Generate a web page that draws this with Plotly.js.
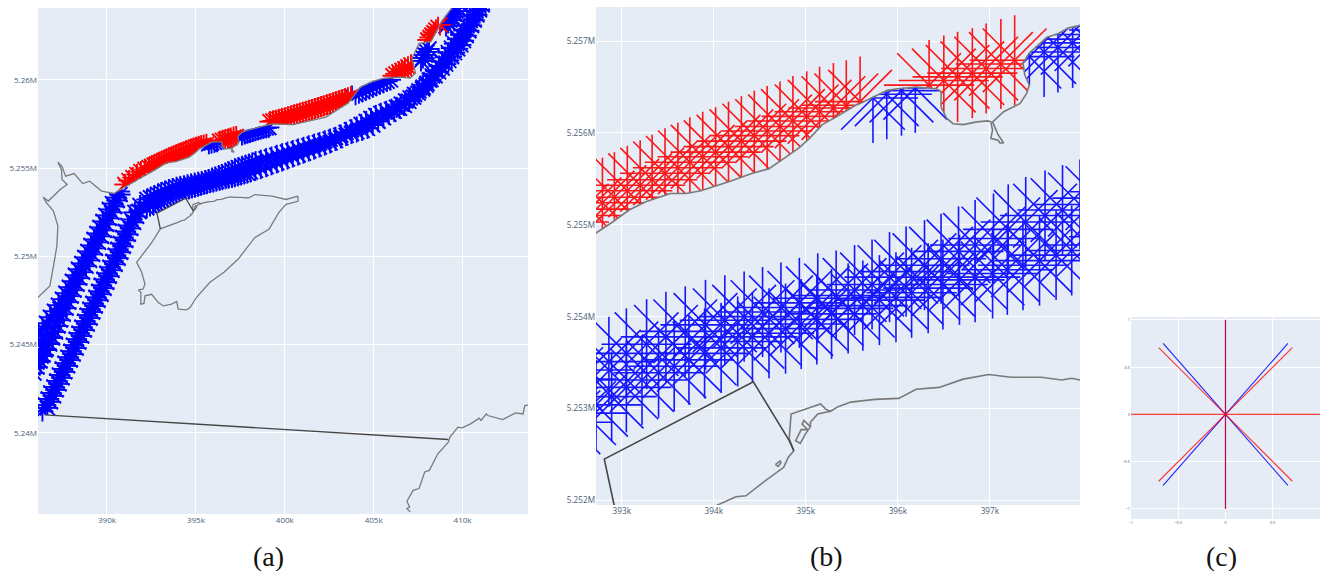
<!DOCTYPE html>
<html><head><meta charset="utf-8">
<script src="https://cdn.plot.ly/plotly-3.0.1.min.js"></script>
<style>html,body{margin:0;padding:0;background:#fff}#g{width:1320px;height:571px}</style>
</head><body><div id="g"></div>
<script>
// All map positions are in kilometres (x = easting, y = northing).
const redStart = [[391.01,5254.07],[391.24,5254.29],[391.46,5254.46],[391.69,5254.63],[391.91,5254.80],[392.14,5254.92],[392.37,5255.03],[392.51,5255.10],[392.65,5255.17],
[392.79,5255.24],[392.92,5255.30],[393.06,5255.37],[393.20,5255.43],[393.33,5255.49],[393.47,5255.56],[393.61,5255.62],[393.74,5255.68],[393.88,5255.74],[394.02,5255.79],[394.16,5255.85],[394.30,5255.91],[394.44,5255.97],[394.58,5256.02],[394.72,5256.07],[394.86,5256.13],[395.01,5256.18],[395.15,5256.23],[395.30,5256.27],[395.44,5256.30],[395.59,5256.34]];
const redBay = [[396.34,5256.52],[396.50,5256.57],[396.65,5256.61],[396.81,5256.65],[396.96,5256.70],[397.12,5256.75],[397.27,5256.79]];
const redMiddle = [[399.17,5257.63],[399.34,5257.67],[399.50,5257.71],[399.67,5257.76],[399.84,5257.81],[400.01,5257.85],[400.18,5257.91],[400.35,5257.96],[400.52,5258.01],[400.69,5258.06],[400.85,5258.11],[401.02,5258.16],[401.19,5258.21],[401.36,5258.27],[401.53,5258.32],[401.70,5258.37],[401.87,5258.43],[402.04,5258.48],[402.20,5258.53],[402.37,5258.59],[402.54,5258.64],[402.71,5258.70],[402.88,5258.76],[403.05,5258.81],[403.22,5258.87],[403.39,5258.93],[403.55,5258.98],[403.72,5259.04]];
const redCape = [[406.09,5260.23],[406.25,5260.34],[406.42,5260.45],[406.59,5260.54],[406.76,5260.62],[406.93,5260.73],[407.10,5260.85]];
const redEnd = [[408.05,5262.26],[408.17,5262.40],[408.28,5262.54],[408.39,5262.68],[408.50,5262.82],[408.62,5262.97],[408.73,5263.11]];

const track1West = [[391.86,5252.88],[391.57,5252.49],[391.35,5252.09],[391.18,5251.75],[391.04,5251.41],[390.90,5251.07],[390.76,5250.73],[390.62,5250.40],[390.48,5250.06],[390.34,5249.72],[390.17,5249.38],[390.00,5249.04],[389.83,5248.70],[389.69,5248.36],[389.55,5248.02],[389.38,5247.68],[389.21,5247.34],[389.04,5247.01],[388.90,5246.67],[388.76,5246.33],[388.59,5245.99],[388.43,5245.65],[388.28,5245.31],[388.12,5244.97],[387.98,5244.63],[387.81,5244.29],[387.64,5243.95],[387.50,5243.62],[387.33,5243.28],[387.19,5242.94],[387.02,5242.60],[386.85,5242.26],[386.71,5241.92],[386.54,5241.58],[386.37,5241.24]];
const track1Mid = [[392.25,5253.22],[392.45,5253.32],[392.65,5253.42],[392.86,5253.51],[393.05,5253.60],[393.27,5253.70],[393.48,5253.78],[393.69,5253.84],[393.91,5253.91],[394.12,5253.96],[394.33,5254.00],[394.53,5254.05],[394.73,5254.10],[394.93,5254.15],[395.13,5254.20],[395.33,5254.23],[395.53,5254.29],[395.72,5254.35],[395.91,5254.43],[396.09,5254.49],[396.29,5254.56],[396.47,5254.63],[396.66,5254.71],[396.84,5254.78],[397.04,5254.85],[397.20,5254.95],[397.39,5255.03],[397.60,5255.10],[397.79,5255.16],[397.98,5255.22],[398.17,5255.29],[398.36,5255.36]];
const track1East = [[398.65,5255.44],[398.95,5255.53],[399.25,5255.62],[399.55,5255.72],[399.85,5255.81],[400.15,5255.90],[400.45,5255.99],[400.75,5256.08],[401.05,5256.17],[401.35,5256.26],[401.65,5256.35],[401.95,5256.44],[402.25,5256.54],[402.55,5256.64],[402.85,5256.74],[403.15,5256.87],[403.45,5257.02],[403.75,5257.17],[404.05,5257.32],[404.30,5257.47],[404.58,5257.64],[404.85,5257.81],[405.12,5257.98],[405.40,5258.10],[405.70,5258.21],[406.00,5258.33],[406.28,5258.44],[406.55,5258.62],[406.80,5258.80],[407.05,5258.98],[407.30,5259.17],[407.55,5259.37],[407.78,5259.58],[408.00,5259.80],[408.22,5260.01],[408.45,5260.23],[408.65,5260.45],[408.85,5260.67],[409.05,5260.89],[409.22,5261.10],[409.38,5261.32],[409.55,5261.54],[409.72,5261.76],[409.90,5261.98],[410.05,5262.22],[410.20,5262.50],[410.35,5262.78],[410.50,5263.08],[410.65,5263.38],[410.80,5263.68],[410.95,5263.96],[411.10,5264.25],[411.25,5264.55]];

const track2West = [[391.80,5252.54],[391.66,5252.26],[391.49,5251.92],[391.32,5251.58],[391.18,5251.24],[391.04,5250.90],[390.90,5250.56],[390.76,5250.23],[390.62,5249.89],[390.45,5249.55],[390.28,5249.21],[390.11,5248.87],[389.97,5248.53],[389.83,5248.19],[389.66,5247.85],[389.49,5247.51],[389.33,5247.18],[389.18,5246.84],[389.04,5246.50],[388.88,5246.16],[388.71,5245.82],[388.57,5245.48],[388.40,5245.14],[388.26,5244.80],[388.09,5244.46],[387.92,5244.12],[387.78,5243.79],[387.61,5243.45],[387.47,5243.11],[387.30,5242.77],[387.13,5242.43],[386.99,5242.09],[386.82,5241.75],[386.65,5241.41]];
const track2Mid = [[392.24,5252.75],[392.42,5252.85],[392.59,5252.95],[392.72,5253.04],[392.89,5253.13],[393.05,5253.23],[393.22,5253.31],[393.40,5253.39],[393.57,5253.46],[393.73,5253.53],[393.90,5253.60],[394.08,5253.66],[394.26,5253.73],[394.42,5253.78],[394.60,5253.82],[394.78,5253.87],[394.95,5253.92],[395.12,5253.97],[395.28,5254.03],[395.46,5254.09],[395.62,5254.12],[395.80,5254.18],[395.98,5254.21],[396.15,5254.26],[396.33,5254.31],[396.49,5254.35],[396.67,5254.40],[396.84,5254.43],[397.03,5254.47],[397.19,5254.51],[397.36,5254.56],[397.54,5254.61],[397.72,5254.67],[397.89,5254.72],[398.07,5254.78]];
const track2East = [[398.35,5254.87],[398.65,5254.97],[398.95,5255.08],[399.25,5255.19],[399.55,5255.30],[399.85,5255.41],[400.15,5255.52],[400.45,5255.63],[400.75,5255.74],[401.05,5255.85],[401.35,5255.97],[401.65,5256.08],[401.95,5256.20],[402.25,5256.31],[402.55,5256.43],[402.85,5256.57],[403.15,5256.71],[403.45,5256.85],[403.75,5256.96],[404.05,5257.05],[404.35,5257.14],[404.65,5257.25],[404.95,5257.44],[405.25,5257.65],[405.55,5257.85],[405.85,5258.05],[406.15,5258.22],[406.45,5258.39],[406.72,5258.55],[406.98,5258.78],[407.25,5259.02],[407.50,5259.25],[407.75,5259.48],[407.95,5259.70],[408.13,5259.98],[408.30,5260.22],[408.50,5260.50],[408.68,5260.78],[408.85,5261.03],[409.02,5261.28],[409.20,5261.54],[409.38,5261.80],[409.55,5262.05],[409.72,5262.30],[409.90,5262.55],[410.07,5262.80],[410.25,5263.08],[410.42,5263.36],[410.58,5263.62],[410.75,5263.90],[410.92,5264.18],[411.10,5264.48]];

const track3 = [[390.70,5253.67],[390.51,5253.33],[390.31,5252.99],[390.14,5252.66],[389.94,5252.32],[389.78,5251.98],[389.61,5251.64],[389.44,5251.30],[389.27,5250.96],[389.10,5250.62],[388.93,5250.28],[388.76,5249.94],[388.59,5249.60],[388.40,5249.27],[388.23,5248.93],[388.06,5248.59],[387.89,5248.25],[387.69,5247.91],[387.50,5247.57],[387.27,5247.23],[387.05,5246.89],[386.82,5246.55],[386.60,5246.21],[386.37,5245.88],[386.15,5245.54],[385.92,5245.20]];
const track4 = [[390.73,5253.50],[390.56,5253.16],[390.42,5252.82],[390.28,5252.49],[390.11,5252.15],[389.97,5251.81],[389.83,5251.47],[389.69,5251.13],[389.52,5250.79],[389.35,5250.45],[389.18,5250.11],[389.02,5249.77],[388.82,5249.44],[388.62,5249.10],[388.45,5248.76],[388.31,5248.42],[388.14,5248.08],[387.98,5247.74],[387.83,5247.40],[387.69,5247.06],[387.53,5246.72],[387.36,5246.38],[387.24,5246.05],[387.10,5245.71],[386.93,5245.37],[386.77,5245.03],[386.51,5244.69],[386.29,5244.35],[386.06,5244.01],[385.84,5243.67],[385.64,5243.33]];
const track5 = [[387.36,5247.01],[387.19,5246.67],[387.02,5246.33],[386.85,5245.99],[386.68,5245.65],[386.54,5245.31],[386.40,5244.97],[386.23,5244.63],[386.06,5244.29],[385.89,5243.95]];
const track6 = [[386.91,5245.42],[386.74,5245.08],[386.57,5244.75],[386.40,5244.41],[386.23,5244.07],[386.06,5243.73],[385.89,5243.39]];

const blueBay = [[395.73,5256.38],[395.88,5256.42],[396.04,5256.46],[396.19,5256.49]];
const blueShore = [[397.43,5256.83],[397.59,5256.88],[397.74,5256.93],[397.90,5256.98],[398.05,5257.02],[398.20,5257.07],[398.35,5257.12],[398.50,5257.17],[398.65,5257.21],[398.80,5257.25],[398.95,5257.28],[399.10,5257.30]];
const blueNorth = [[403.78,5259.08],[403.98,5259.16],[404.17,5259.25],[404.37,5259.34],[404.57,5259.43],[404.76,5259.51],[404.96,5259.60],[405.16,5259.69],[405.35,5259.77],[405.55,5259.84],[405.75,5259.92],[405.94,5260.00]];
const blueCape = [[407.66,5261.07],[407.77,5261.24],[407.89,5261.41],[408.00,5261.58],[408.11,5261.75]];
const blueEnd = [[409.07,5263.05],[409.18,5263.22],[409.29,5263.39],[409.40,5263.56],[409.52,5263.73],[409.63,5263.90],[409.74,5264.07],[409.85,5264.24]];

const coastNorth = [[386.11,5247.66],[386.79,5248.32],[386.99,5249.45],[387.18,5250.58],[387.24,5251.71],[386.99,5252.56],[386.60,5253.03],[386.41,5253.35],[386.70,5253.13],[387.37,5253.79],[387.76,5254.07],[387.47,5254.35],[387.44,5254.92],[387.24,5255.33],[387.47,5255.10],[387.67,5254.54],[388.15,5254.69],[388.64,5254.12],[389.03,5254.26],[389.70,5253.69],[390.38,5253.56],[390.96,5253.88],[391.74,5254.35],
[392.72,5254.91],[392.90,5255.03],[393.08,5255.16],[393.26,5255.25],[393.53,5255.34],[393.70,5255.34],[393.86,5255.37],[394.17,5255.47],[394.42,5255.56],[394.60,5255.61],[394.76,5255.72],[394.93,5255.84],[395.04,5255.94],[395.18,5256.09],[395.36,5256.19],[395.54,5256.30],[395.59,5256.32],[395.73,5256.39],[395.88,5256.46],[395.99,5256.48],[396.20,5256.50],[396.42,5256.48],[396.47,5256.45],[396.47,5256.28],[396.53,5256.16],[396.60,5256.10],[396.71,5256.09],[396.86,5256.12],[396.98,5256.13],
[397.01,5256.12],[397.03,5256.03],[397.01,5255.94],[397.09,5255.92],[397.11,5255.89],[397.15,5255.89],[397.09,5255.98],[397.05,5256.07],[397.03,5256.12],
[397.15,5256.23],[397.33,5256.32],[397.40,5256.43],[397.43,5256.52],[397.38,5256.63],[397.36,5256.76],[397.43,5256.87],[397.53,5256.96],[397.62,5257.04],[397.74,5257.08],[397.85,5257.14],[397.98,5257.17],[398.07,5257.18],
[399.30,5257.51],[400.47,5257.46],[401.43,5257.70],[402.31,5257.89],[403.57,5258.68],[404.25,5259.59],[404.93,5259.91],[405.61,5260.09],[406.48,5260.15],[407.06,5260.10],[407.35,5260.38],[407.16,5261.22],[407.55,5262.07],[408.22,5262.16],[408.81,5263.29],[409.39,5264.07]];
const coastIsland = [[400.74,5253.41],[400.07,5253.22],[399.28,5253.41],[398.32,5253.50],
[397.98,5253.31],[397.89,5253.33],[397.78,5253.31],[397.56,5253.34],[397.23,5253.34],[396.99,5253.37],[396.71,5253.32],[396.45,5253.23],[396.20,5253.21],[396.01,5253.11],[395.75,5253.10],[395.49,5253.07],[395.35,5253.02],[395.27,5252.97],[395.22,5252.99],[395.16,5253.05],[394.84,5252.94],[394.82,5252.67],[394.87,5252.54],[394.81,5252.47],[394.76,5252.36],[394.54,5252.20],[394.35,5252.05],[394.24,5252.04],[394.02,5251.94],[393.00,5251.56],
[392.51,5250.77],[391.67,5249.66],[391.95,5249.10],[392.14,5248.42],[392.02,5248.14],[391.76,5248.10],[391.91,5247.95],[391.90,5247.29],[392.08,5247.33],[392.14,5247.76],[392.51,5247.85],[392.89,5247.38],[393.17,5247.19],[393.64,5247.29],[393.92,5247.44],[394.01,5247.01],[394.48,5246.97],[394.67,5247.10],[395.04,5247.68],[395.79,5248.53],[396.58,5249.10],[397.37,5249.83],[398.32,5251.07],[399.11,5251.53],[399.67,5252.49],[400.07,5252.94],[400.74,5253.12],[400.74,5253.41]];
const harbour = [[395.27,5252.97],[395.13,5252.94],[395.05,5252.85],[395.05,5252.80],[394.98,5252.87],[394.96,5252.83],[395.02,5252.77],[394.95,5252.77],[394.89,5252.65],[394.94,5252.62],[395.00,5252.73],[395.05,5252.80]];
const islet = [[394.67,5252.39],[394.72,5252.43],[394.73,5252.41],[394.70,5252.37],[394.67,5252.39]];
const coastSouth = [[413.75,5241.58],[413.50,5241.54],[413.40,5241.07],[412.98,5241.13],[412.26,5240.75],[411.42,5240.98],[411.33,5241.07],[411.04,5240.70],[410.94,5240.83],[410.45,5240.51],[409.97,5240.28],[409.74,5240.32],[409.29,5239.76],[409.20,5239.47],[408.61,5238.81],[408.13,5237.87],[407.87,5237.78],[407.55,5236.84],[407.22,5236.74],[406.87,5236.12],[407.02,5235.80],[406.87,5235.71],[407.06,5235.52]];
const boundaryBox = [[393.00,5251.56],[392.81,5252.45],[394.43,5253.29],[394.82,5252.65],[394.87,5252.54]];
const boundaryLine = [[386.50,5241.02],[409.20,5239.62]];

const rayLengthA = 0.6;
const rayLengthB = 0.49;
const starDirX = [1,0.707,0,-0.707,-1,-0.707,0,0.707];
const starDirY = [0,0.707,1,0.707,0,-0.707,-1,-0.707];
const unitRedX = [1,0.707,0,-0.707,-1,-0.707,0,0.707];
const unitRedY = [0,0.707,1,0.707,0,-0.707,-1,-0.707];
const unitBlueX = [0.66,0,-0.66,-0.66,0,0.66];
const unitBlueY = [0.75,1,0.75,-0.75,-1,-0.75];

const xTicksA=[390,395,400,405,410], xTextA=['390k','395k','400k','405k','410k'];
const yTicksA=[5240,5245,5250,5255,5260], yTextA=['5.24M','5.245M','5.25M','5.255M','5.26M'];
const xTicksB=[393,394,395,396,397], xTextB=['393k','394k','395k','396k','397k'];
const yTicksB=[5252,5253,5254,5255,5256,5257], yTextB=['5.252M','5.253M','5.254M','5.255M','5.256M','5.257M'];
const ticksC=[-1,-0.5,0,0.5,1], textC=['−1','−0.5','0','0.5','1'];
const captions=['(a)','(b)','(c)'];

const barriers=[coastNorth,coastIsland,coastSouth,boundaryBox,boundaryLine,harbour];
function rayEnd(cx,cy,dx,dy){
  let best=1;
  for(const poly of barriers){
    for(let i=0;i<poly.length-1;i++){
      const ax=poly[i][0],ay=poly[i][1],ex=poly[i+1][0]-ax,ey=poly[i+1][1]-ay;
      const d=dx*ey-dy*ex; if(Math.abs(d)<1e-12) continue;
      const t=((ax-cx)*ey-(ay-cy)*ex)/d, u=((ax-cx)*dy-(ay-cy)*dx)/d;
      if(t>1e-4&&t<best&&u>=0&&u<=1) best=t;
    }
  }
  return [cx+dx*best,cy+dy*best];
}
function stars(centres,len){
  const x=[],y=[];
  for(const [cx,cy] of centres){
    for(let k=0;k<8;k++){
      const e=rayEnd(cx,cy,starDirX[k]*len,starDirY[k]*len);
      x.push(cx,e[0],null); y.push(cy,e[1],null);
    }
  }
  return {x,y};
}
const redAll=[...redStart,...redBay,...redMiddle,...redCape,...redEnd];
const blueAll=[...track1West,...track1Mid,...track1East,...track2West,...track2Mid,...track2East,...track3,...track4,...track5,...track6,...blueBay,...blueShore,...blueNorth,...blueCape,...blueEnd];

function poly(p,xa,ya,color,width){return {type:'scatter',mode:'lines',x:p.map(q=>q[0]),y:p.map(q=>q[1]),xaxis:xa,yaxis:ya,line:{color,width},hoverinfo:'skip',connectgaps:false};}
function unit(dx,dy,color,width,op){const x=[],y=[];dx.forEach((v,i)=>{x.push(0,v,null);y.push(0,dy[i],null);});
  return {type:'scatter',mode:'lines',x,y,xaxis:'x3',yaxis:'y3',opacity:op,line:{color,width},hoverinfo:'skip'};}

const traces=[];
[['x','y',1.9,1.3,rayLengthA,1],['x2','y2',1.6,1.6,rayLengthB,0.9]].forEach(([xa,ya,rw,cw,len,op])=>{
  const b=stars(blueAll,len), r=stars(redAll,len);
  traces.push({type:'scatter',mode:'lines',x:b.x,y:b.y,xaxis:xa,yaxis:ya,line:{color:'rgb(0,0,255)',width:rw},opacity:op,hoverinfo:'skip'});
  traces.push({type:'scatter',mode:'lines',x:r.x,y:r.y,xaxis:xa,yaxis:ya,line:{color:'rgb(255,0,0)',width:rw},opacity:op,hoverinfo:'skip'});
  [coastNorth,coastIsland,coastSouth,harbour,islet].forEach(p=>traces.push(poly(p,xa,ya,'#7a7a7a',cw)));
  [boundaryBox,boundaryLine].forEach(p=>traces.push(poly(p,xa,ya,'#454545',cw)));
});
traces.push(unit(unitBlueX,unitBlueY,'rgb(0,0,255)',1.1,0.85));
traces.push(unit(unitRedX,unitRedY,'rgb(255,0,0)',1.2,0.75));

const W=1320,H=571;
const dx=(a,b)=>[a/W,b/W], dy=(top,bot)=>[1-bot/H,1-top/H];
const base=(size)=>({showgrid:true,gridcolor:'#ffffff',gridwidth:1,zeroline:false,showline:false,ticks:'',tickmode:'array',tickfont:{family:'"Open Sans",sans-serif',size,color:'#4a5d78'},automargin:false});
const layout={
  width:W,height:H,margin:{l:0,r:0,t:0,b:0},paper_bgcolor:'#ffffff',plot_bgcolor:'#E5ECF6',showlegend:false,hovermode:false,
  xaxis:{...base(8),domain:dx(38,528),range:[386.12,413.68],tickvals:xTicksA,ticktext:xTextA,anchor:'y'},
  yaxis:{...base(8),domain:dy(8,514),range:[5235.4,5264.07],tickvals:yTicksA,ticktext:yTextA,anchor:'x'},
  xaxis2:{...base(8.2),domain:dx(596,1080),range:[392.72,397.98],tickvals:xTicksB,ticktext:xTextB,anchor:'y2'},
  yaxis2:{...base(8.2),domain:dy(7,505),range:[5251.95,5257.37],tickvals:yTicksB,ticktext:yTextB,anchor:'x2'},
  xaxis3:{...base(4),domain:dx(1131,1320),range:[-1,1],tickvals:ticksC,ticktext:textC,anchor:'y3'},
  yaxis3:{...base(4),domain:dy(317,519),range:[-1.106,1.03],tickvals:ticksC,ticktext:textC,anchor:'x3'},
  annotations:[[268,captions[0]],[827,captions[1]],[1221,captions[2]]].map(([px,t])=>({
    xref:'paper',yref:'paper',x:px/W,y:1-556/H,text:t,showarrow:false,xanchor:'center',yanchor:'middle',
    font:{family:'"Liberation Serif",serif',size:28,color:'#111111'}}))
};
Plotly.newPlot('g',traces,layout,{displayModeBar:false,staticPlot:true});
</script></body></html>
